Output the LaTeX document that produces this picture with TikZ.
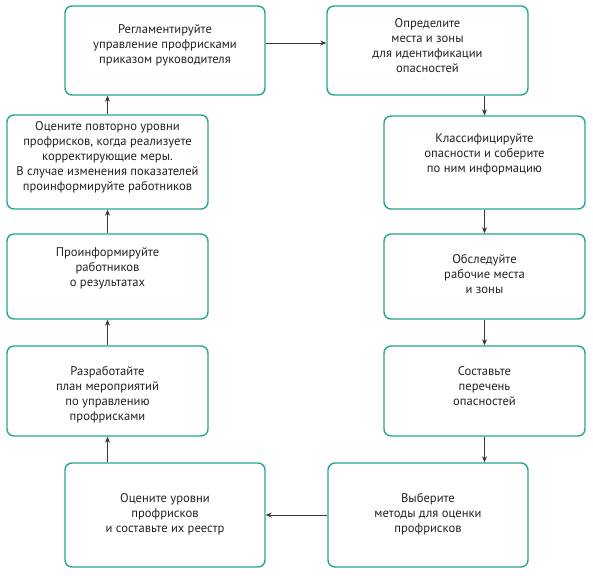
\documentclass[tikz,border=0pt]{standalone}
\usepackage{fontspec}
\setmainfont{PT Sans}
\usetikzlibrary{arrows.meta}
\definecolor{teal}{RGB}{35,166,140}
\definecolor{ink}{RGB}{34,34,34}
\tikzset{
  box/.style={draw=teal, line width=1.4pt, rounded corners=7pt, inner sep=0pt},
  txt/.style={align=center, font=\fontsize{12.6}{15}\selectfont, text=ink, inner sep=0pt},
  arr/.style={draw=ink!90, line width=0.7pt, -{Stealth[length=6pt,width=5pt]}}
}
\begin{document}
\begin{tikzpicture}[x=1pt,y=-1pt]
\useasboundingbox (0,0) rectangle (593,575);
% boxes
\node[box, minimum width=200pt, minimum height=89pt] (b1) at (165,50.5) {};
\node[box, minimum width=201pt, minimum height=89pt] (b2) at (427.5,50.5) {};
\node[box, minimum width=201pt, minimum height=93pt] (b3) at (484.5,162.5) {};
\node[box, minimum width=201pt, minimum height=85pt] (b4) at (484.5,276.5) {};
\node[box, minimum width=201pt, minimum height=90pt] (b5) at (484.5,391) {};
\node[box, minimum width=200pt, minimum height=104pt] (b6) at (428,515) {};
\node[box, minimum width=200pt, minimum height=104pt] (b7) at (165,515) {};
\node[box, minimum width=201pt, minimum height=90pt] (b8) at (107.5,391) {};
\node[box, minimum width=201pt, minimum height=85pt] (b9) at (107.5,276.5) {};
\node[box, minimum width=201pt, minimum height=94pt] (b10) at (107.5,162) {};
% texts
\node[txt] (t1) at (165,45) {Регламентируйте\\управление профрисками\\приказом руководителя};
\node[txt] (t2) at (427.5,45.5) {Определите\\места и зоны\\для идентификации\\опасностей};
\node[txt] (t3) at (484.5,154) {Классифицируйте\\опасности и соберите\\по ним информацию};
\node[txt] (t4) at (484.5,274) {Обследуйте\\рабочие места\\и зоны};
\node[txt] (t5) at (484.5,386) {Составьте\\перечень\\опасностей};
\node[txt] (t6) at (428,514) {Выберите\\методы для оценки\\профрисков};
\node[txt] (t7) at (165,514) {Оцените уровни\\профрисков\\и составьте их реестр};
\node[txt] (t8) at (107.5,394.5) {Разработайте\\план мероприятий\\по управлению\\профрисками};
\node[txt] (t9) at (107.5,268) {Проинформируйте\\работников\\о результатах};
\node[txt] (t10) at (107.5,157) {Оцените повторно уровни\\профрисков, когда реализуете\\корректирующие меры.\\В случае изменения показателей\\проинформируйте работников};
% connectors
\coordinate (r1) at (0,43);
\draw[arr] (b1.east |- r1) -- (b2.west |- r1);
\draw[arr] (b2.south -| b3.north) -- (b3.north);
\draw[arr] (b3) -- (b4);
\draw[arr] (b4) -- (b5);
\draw[arr] (b5.south) -- (b5.south |- b6.north);
\coordinate (r6) at (0,515);
\draw[arr] (b6.west |- r6) -- (b7.east |- r6);
\draw[arr] (b7.north -| b8.south) -- (b8.south);
\draw[arr] (b8) -- (b9);
\draw[arr] (b9) -- (b10);
\draw[arr] (b10.north) -- (b10.north |- b1.south);
\end{tikzpicture}
\end{document}
